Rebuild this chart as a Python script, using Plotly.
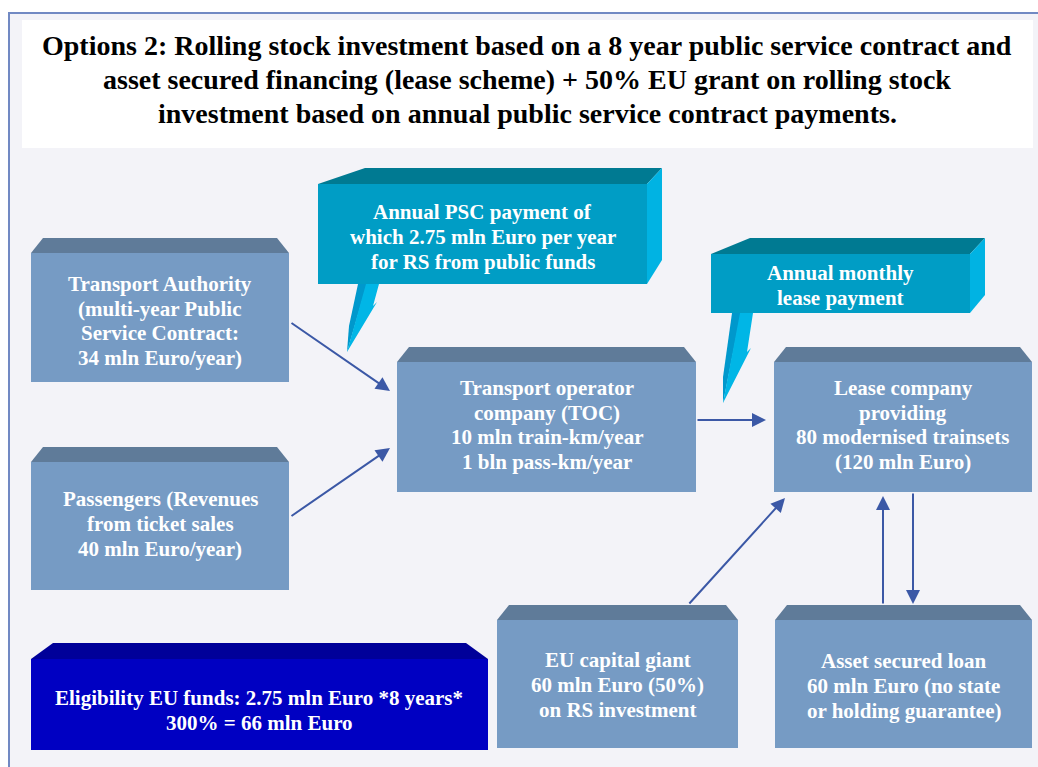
import plotly.graph_objects as go

# ---- content ----
title_lines = [
    "Options 2: Rolling stock investment based on a 8 year public service contract and",
    "asset secured financing (lease scheme) + 50% EU grant on rolling stock",
    "investment based on annual public service contract payments.",
]
box_names = ["authority", "passengers", "toc", "lease", "eu_grant", "loan"]
box_texts = [
    ["Transport Authority", "(multi-year Public", "Service Contract:", "34 mln Euro/year)"],
    ["Passengers (Revenues", "from ticket sales", "40 mln Euro/year)"],
    ["Transport operator", "company (TOC)", "10 mln train-km/year", "1 bln pass-km/year"],
    ["Lease company", "providing", "80 modernised trainsets", "(120 mln Euro)"],
    ["EU capital giant", "60 mln Euro (50%)", "on RS investment"],
    ["Asset secured loan", "60 mln Euro (no state", "or holding guarantee)"],
]
callout_texts = [
    ["Annual PSC payment of", "which 2.75 mln Euro per year", "for RS from public funds"],
    ["Annual monthly", "lease payment"],
]
eligibility_text = ["Eligibility EU funds: 2.75 mln Euro *8 years*", "300% = 66 mln Euro"]

# flows: (from, to)
flows = [("authority", "toc"), ("passengers", "toc"), ("toc", "lease"),
         ("eu_grant", "lease"), ("loan", "lease"), ("lease", "loan")]

# ---- geometry (pixel layout) ----
box_geom = {  # x0, x1, y0(top of front), y1(bottom)
    "authority": (31, 289, 253, 382),
    "passengers": (31, 289, 462, 590),
    "toc": (397, 696, 362, 492),
    "lease": (774, 1032, 362, 492),
    "eu_grant": (497, 738, 620, 748),
    "loan": (775, 1032, 620, 748),
}
text_cy = {"authority": 321, "passengers": 524, "toc": 425, "lease": 425,
           "eu_grant": 685, "loan": 686}
arrow_pts = {  # tail -> head
    ("authority", "toc"): ((290, 322), (390, 391)),
    ("passengers", "toc"): ((290, 517), (390, 448)),
    ("toc", "lease"): ((696, 420), (766, 420)),
    ("eu_grant", "lease"): ((688, 605), (785, 498)),
    ("loan", "lease"): ((883, 605), (883, 496)),
    ("lease", "loan"): ((913, 492), (913, 604)),
}

W, H = 1038, 767
FRONT = "#769bc4"
TOP = "#5f7b99"
C_FRONT = "#009dc5"
C_TOP = "#007a92"
C_SIDE = "#00b3e3"
ARROW = "#3b58a6"
FONT = "Liberation Serif, Times New Roman, serif"

shapes = []
annotations = []


def poly(pts, color, line=None):
    path = "M " + " L ".join(f"{x},{y}" for x, y in pts) + " Z"
    shapes.append(dict(type="path", path=path, xref="x", yref="y",
                       fillcolor=color, line=dict(width=0) if line is None else line,
                       layer="above"))


def text_block(lines, cx, cy, size, color, spacing):
    n = len(lines)
    for i, ln in enumerate(lines):
        annotations.append(dict(x=cx, y=cy + (i - (n - 1) / 2) * spacing, xref="x", yref="y",
                                text=ln, showarrow=False, align="center",
                                xanchor="center", yanchor="middle",
                                font=dict(family=FONT, size=size, color=color, weight="bold")))


# frame + background
shapes.append(dict(type="rect", x0=9, y0=13, x1=W + 5, y1=H + 5, xref="x", yref="y",
                   fillcolor="#f3f3f8", line=dict(color="#7189c3", width=2), layer="below"))
shapes.append(dict(type="rect", x0=22, y0=20, x1=1033, y1=148, xref="x", yref="y",
                   fillcolor="white", line=dict(width=0), layer="below"))

text_block(title_lines, 527, 79, 28, "black", 34)


def bevel_box(x0, x1, y0, y1, front, top, depth=15, inset=12):
    poly([(x0, y0), (x0 + inset, y0 - depth), (x1 - inset, y0 - depth), (x1, y0)], top)
    poly([(x0, y0), (x1, y0), (x1, y1), (x0, y1)], front)


for name, lines in zip(box_names, box_texts):
    x0, x1, y0, y1 = box_geom[name]
    bevel_box(x0, x1, y0, y1, FRONT, TOP)
    text_block(lines, (x0 + x1) / 2, text_cy[name], 21, "white", 24.7)

# eligibility box
bevel_box(31, 488, 659, 750, "#0000c2", "#000099", depth=16, inset=22)
text_block(eligibility_text, 259, 710, 21, "white", 25)

# callouts
callout_geom = [
    dict(x0=318, x1=647, y0=184, y1=284, tl=365, d=16, sb=260,
         dark=[(358, 284), (367, 284), (347, 352), (349, 326)],
         light=[(366, 284), (379, 284), (373, 306), (377, 302), (347, 352)],
         cy=237),
    dict(x0=711, x1=970, y0=254, y1=313, tl=750, d=16, sb=295,
         dark=[(732, 313), (741, 313), (723, 403), (723, 377)],
         light=[(740, 313), (753, 313), (747, 352), (751, 348), (723, 403)],
         cy=285),
]
for g, lines in zip(callout_geom, callout_texts):
    x0, x1, y0, y1, d = g["x0"], g["x1"], g["y0"], g["y1"], g["d"]
    poly([(x0, y0), (g["tl"], y0 - d), (x1 + 15, y0 - d), (x1, y0)], C_TOP)
    poly([(x1, y0), (x1 + 15, y0 - d), (x1 + 15, g["sb"]), (x1, y1)], C_SIDE)
    poly([(x0, y0), (x1, y0), (x1, y1), (x0, y1)], C_FRONT)
    poly(g["dark"], "#0098cc")
    poly(g["light"], "#00b6e6")
    text_block(lines, (x0 + x1) / 2, g["cy"], 21, "white", 25)

# arrows
for f in flows:
    (tx, ty), (hx, hy) = arrow_pts[f]
    annotations.append(dict(x=hx, y=hy, ax=tx, ay=ty, xref="x", yref="y", axref="x", ayref="y",
                            text="", showarrow=True, arrowhead=2, arrowsize=1.4,
                            arrowwidth=2, arrowcolor=ARROW, standoff=0, startstandoff=0))

fig = go.Figure()
fig.add_trace(go.Scatter(x=[0, W], y=[0, H], mode="markers", marker=dict(opacity=0),
                         hoverinfo="skip", showlegend=False))
fig.update_layout(
    width=W, height=H, margin=dict(l=0, r=0, t=0, b=0),
    paper_bgcolor="white", plot_bgcolor="white",
    xaxis=dict(range=[0, W], visible=False, fixedrange=True),
    yaxis=dict(range=[H, 0], visible=False, fixedrange=True),
    shapes=shapes, annotations=annotations, showlegend=False,
)
fig.write_html("out.html", config={"displayModeBar": False},
               post_script="document.body.style.margin='0';")
